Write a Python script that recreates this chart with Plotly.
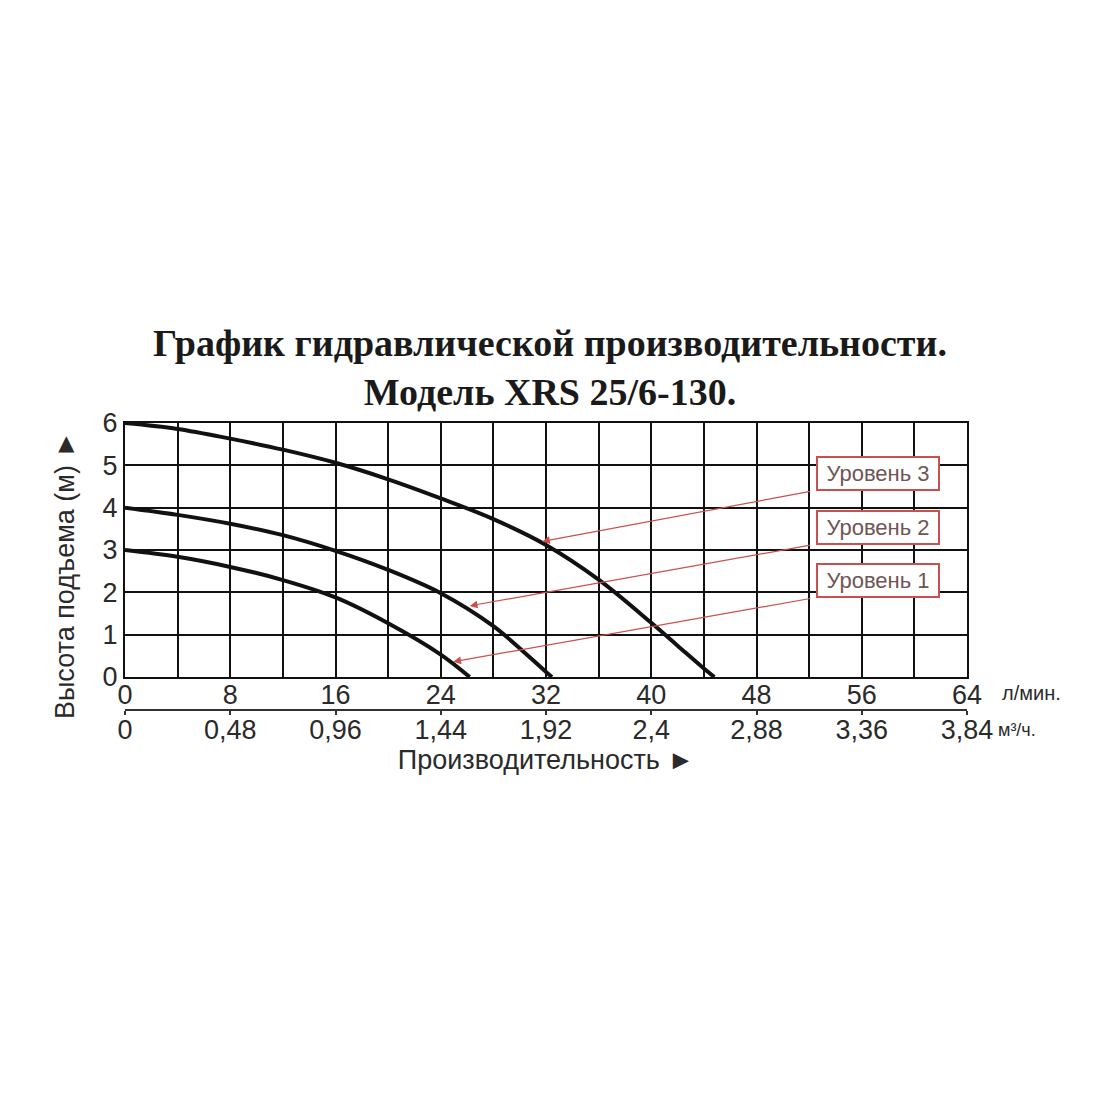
import plotly.graph_objects as go

# кривые насоса: расход (л/мин) -> напор (м)
level3_q = [0, 4, 8, 12, 16, 20, 24, 28, 32, 36, 40, 42, 44, 44.8]
level3_h = [6, 5.86, 5.63, 5.37, 5.06, 4.67, 4.22, 3.73, 3.12, 2.3, 1.28, 0.74, 0.2, 0]
level2_q = [0, 4, 8, 12, 16, 20, 24, 28, 32, 32.45]
level2_h = [4, 3.83, 3.62, 3.35, 2.98, 2.53, 1.98, 1.2, 0.12, 0]
level1_q = [0, 4, 8, 12, 16, 20, 24, 26.2]
level1_h = [3, 2.84, 2.6, 2.29, 1.88, 1.27, 0.53, 0]

lpm_ticks = [0, 8, 16, 24, 32, 40, 48, 56, 64]
m3h_ticks = [0, 0.48, 0.96, 1.44, 1.92, 2.4, 2.88, 3.36, 3.84]
m3h_text = ["0", "0,48", "0,96", "1,44", "1,92", "2,4", "2,88", "3,36", "3,84"]
head_ticks = [0, 1, 2, 3, 4, 5, 6]

labels = ["Уровень 3", "Уровень 2", "Уровень 1"]
label_y = [4.80, 3.52, 2.27]          # центр подписи
arrow_tail = [(52.2, 4.39), (52.2, 3.12), (52.2, 1.86)]
arrow_head = [(31.7, 3.2), (26.2, 1.68), (24.95, 0.36)]

FONT = "Liberation Sans, Arial, sans-serif"
TXT = "#2a2a2a"
RED = "#c9504f"

fig = go.Figure()
for q, h in [(level3_q, level3_h), (level2_q, level2_h), (level1_q, level1_h)]:
    fig.add_trace(go.Scatter(x=q, y=h, mode="lines", line=dict(color="#111", width=4, shape="spline"),
                             showlegend=False, hoverinfo="skip"))

# второй ряд подписей (м³/ч) - отдельная ось
fig.add_trace(go.Scatter(x=[0, 3.84], y=[0, 0], xaxis="x2", mode="lines", line=dict(width=0),
                         showlegend=False, hoverinfo="skip"))

for (hx, hy), (tx, ty) in zip(arrow_head, arrow_tail):
    fig.add_annotation(x=hx, y=hy, ax=tx, ay=ty, xref="x", yref="y", axref="x", ayref="y",
                       text="", showarrow=True, arrowhead=2, arrowsize=1.3, arrowwidth=1.2,
                       arrowcolor=RED)

for t, y in zip(labels, label_y):
    fig.add_annotation(x=57.2, y=y, xref="x", yref="y", text=t, showarrow=False,
                       font=dict(family=FONT, size=22, color="#6e5656"),
                       width=116, height=27, bgcolor="white", bordercolor=RED, borderwidth=2,
                       borderpad=2)

fig.add_annotation(x=1.039, y=0.059, xref="paper", yref="paper", xanchor="left", yanchor="middle",
                   text="л/мин.", showarrow=False, font=dict(family=FONT, size=20, color=TXT))
fig.add_annotation(x=1.034, y=-0.07, xref="paper", yref="paper", xanchor="left", yanchor="middle",
                   text="м³/ч.", showarrow=False, font=dict(family=FONT, size=18, color=TXT))

# подпись оси Y (сдвинута вниз, как в оригинале)
fig.add_annotation(x=-0.0713, y=0.47, xref="paper", yref="paper", xanchor="center",
                   yanchor="middle", textangle=-90, text="Высота подъема (м) ►", showarrow=False,
                   font=dict(family=FONT, size=27, color=TXT))

fig.update_layout(
    width=1100,
    height=1100,
    paper_bgcolor="white",
    plot_bgcolor="white",
    margin=dict(l=117, r=141, t=415, b=398),
    title=dict(
        text="График гидравлической производительности.<br>Модель XRS 25/6-130.",
        x=0.4927, xanchor="center", y=0.684, yanchor="middle", yref="container",
        font=dict(family="Liberation Serif, Times New Roman, serif", size=38, color="#1a1a1a",
                  weight="bold"),
    ),
    xaxis=dict(
        range=[0, 64], tickvals=lpm_ticks, showgrid=True, gridcolor="#111", gridwidth=2,
        minor=dict(dtick=4, tick0=0, showgrid=True, gridcolor="#111", gridwidth=2),
        showline=True, linecolor="#111", linewidth=2, mirror=True, zeroline=False,
        ticks="", tickfont=dict(family=FONT, size=27, color=TXT), anchor="y",
        ticklabelstandoff=-7,
    ),
    xaxis2=dict(
        range=[0, 3.84], tickvals=m3h_ticks, ticktext=m3h_text, overlaying="x", anchor="free",
        position=0, side="bottom", showgrid=False, zeroline=False, showline=True,
        linecolor="#333", linewidth=2, ticks="outside", ticklen=4, tickwidth=2, tickcolor="#333",
        tickfont=dict(family=FONT, size=27, color=TXT), ticklabelstandoff=-8,
        title=dict(text="Производительность ►", font=dict(family=FONT, size=27, color=TXT),
                   standoff=0),
    ),
    yaxis=dict(
        range=[0, 6], tickvals=head_ticks, domain=[0.115, 1], showgrid=True, gridcolor="#111",
        gridwidth=2, showline=True, linecolor="#111", linewidth=2, mirror=True, zeroline=False,
        ticks="", tickfont=dict(family=FONT, size=27, color=TXT),
    ),
)

fig.write_html("out.html")
